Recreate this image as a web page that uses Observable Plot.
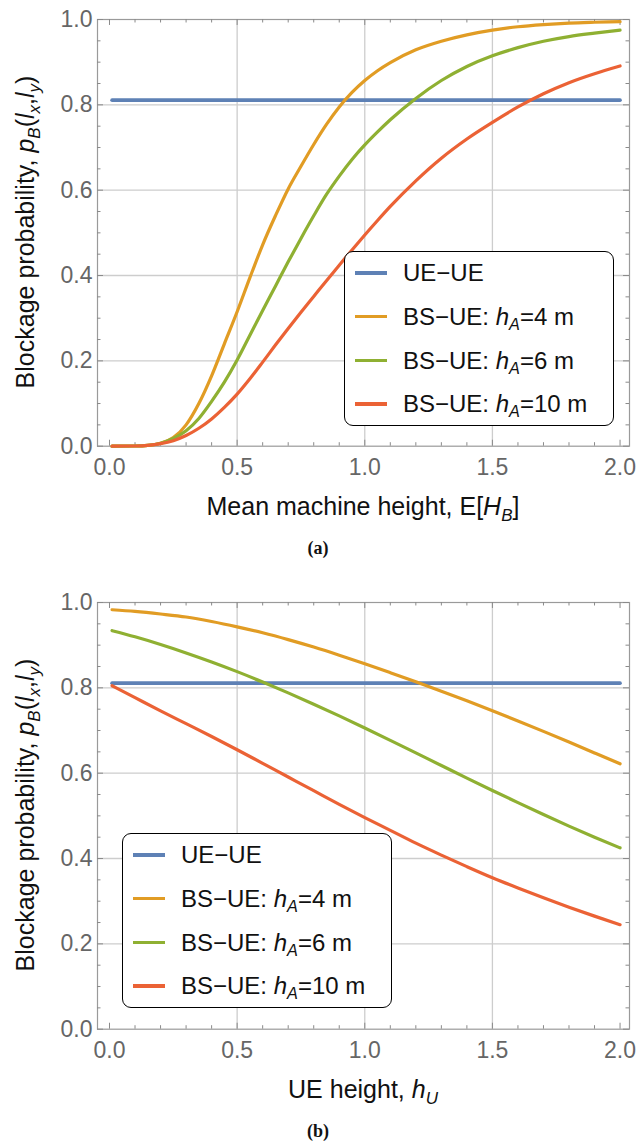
<!DOCTYPE html>
<html><head><meta charset="utf-8">
<script src="https://cdn.jsdelivr.net/npm/d3@7"></script>
<script src="https://cdn.jsdelivr.net/npm/@observablehq/plot@0.6"></script>
<style>
body{margin:0;background:#fff;font-family:"Liberation Sans",Arial,sans-serif;}
#root{position:relative;width:637px;height:1144px;overflow:hidden;}
.panel{position:absolute;left:0;width:637px;height:583px;}
.panel svg{position:absolute;left:0;top:0;}
.cap{position:absolute;left:318px;top:548px;transform:translate(-50%,-50%);font-family:"Liberation Serif","DejaVu Serif",serif;font-weight:bold;font-size:18px;line-height:1;color:#111;}
.legend{position:absolute;width:270px;height:175px;border:1.5px solid #000;border-radius:9px;background:#fff;box-sizing:border-box;}
.row{position:absolute;left:10px;transform:translateY(-50%);display:flex;align-items:center;white-space:nowrap;font-size:24px;color:#111;line-height:1;}
.sw{display:inline-block;width:32px;height:3.5px;margin-right:16px;}
sub{font-size:68%;vertical-align:-0.28em;line-height:0;}
</style>
</head><body><div id="root"></div>
<script>
// ---- data ----
const xTicks = [0, 0.5, 1, 1.5, 2];
const yTicks = [0, 0.2, 0.4, 0.6, 0.8, 1];
const seriesNames = ["UE\u2212UE", "BS\u2212UE: h_A=4 m", "BS\u2212UE: h_A=6 m", "BS\u2212UE: h_A=10 m"];
const seriesColors = ["#5E81B5", "#E19C24", "#8FB032", "#EB6235"];

const ueX = [0.01, 2.0];
const ueY = [0.811, 0.811];

// (a) vs mean machine height
const xA = [0.01,0.1,0.15,0.2,0.25,0.3,0.35,0.4,0.45,0.5,0.55,0.6,0.65,0.7,0.75,0.8,0.85,0.9,0.95,1.0,1.05,1.1,1.2,1.3,1.4,1.5,1.6,1.7,1.8,1.9,2.0];
const orangeA = [0,0.0005,0.002,0.007,0.02,0.05,0.1,0.165,0.24,0.315,0.395,0.472,0.54,0.603,0.656,0.707,0.754,0.795,0.829,0.857,0.88,0.899,0.929,0.949,0.964,0.975,0.983,0.988,0.9915,0.9935,0.995];
const greenA  = [0,0.0005,0.002,0.007,0.018,0.036,0.065,0.105,0.15,0.202,0.26,0.318,0.375,0.432,0.487,0.54,0.59,0.633,0.672,0.706,0.7365,0.765,0.815,0.857,0.89,0.915,0.934,0.949,0.96,0.968,0.975];
const redA    = [0,0.0005,0.002,0.006,0.013,0.025,0.042,0.064,0.091,0.122,0.158,0.197,0.237,0.276,0.314,0.351,0.388,0.424,0.46,0.495,0.529,0.562,0.622,0.675,0.72,0.759,0.795,0.826,0.852,0.873,0.891];

// (b) vs UE height
const xB = [0.01,0.1,0.2,0.3,0.4,0.5,0.6,0.7,0.8,0.9,1.0,1.1,1.2,1.3,1.4,1.5,1.6,1.7,1.8,1.9,2.0];
const orangeB = [0.983,0.979,0.973,0.966,0.9555,0.943,0.929,0.913,0.8955,0.8765,0.8565,0.8355,0.814,0.792,0.7695,0.7465,0.7225,0.698,0.673,0.6475,0.622];
const greenB  = [0.934,0.9196,0.9016,0.8819,0.8607,0.838,0.8137,0.7882,0.7617,0.7342,0.706,0.677,0.6475,0.618,0.5885,0.5595,0.531,0.503,0.476,0.45,0.425];
const redB    = [0.805,0.777,0.746,0.716,0.686,0.655,0.623,0.591,0.559,0.527,0.496,0.466,0.436,0.408,0.381,0.355,0.331,0.308,0.286,0.265,0.245];

// ---- drawing ----
const X0 = -0.047, X1 = 2.037;
const xMinor = d3.range(0, 21).map(i => i / 10);
const yMinor = d3.range(0, 21).map(i => i / 20);
const gridX = [0.5, 1, 1.5];
const gridY = [0.2, 0.4, 0.6, 0.8];
const FONT = "Liberation Sans, Arial, sans-serif";

function toRows(xs, ys) { return xs.map((x, i) => ({x, y: ys[i]})); }

function makePlot(xs, curves) {
  const tickC = "#8a8a8a";
  const isMajX = d => Math.abs(d * 2 - Math.round(d * 2)) < 1e-9;
  const isMajY = d => Math.abs(d * 5 - Math.round(d * 5)) < 1e-9;
  const majLx = 0.0235, minLx = 0.0137, majLy = 0.014, minLy = 0.0082;
  return Plot.plot({
    width: 637, height: 530,
    marginLeft: 97, marginRight: 8, marginTop: 19, marginBottom: 84.3,
    x: {domain: [X0, X1]},
    y: {domain: [0, 1]},
    style: {fontFamily: FONT, fontSize: "23px", color: "#666", background: "transparent", overflow: "visible"},
    marks: [
      Plot.ruleX(gridX, {x: d => d, stroke: "#cdcdcd", strokeWidth: 1.3}),
      Plot.ruleY(gridY, {y: d => d, stroke: "#cdcdcd", strokeWidth: 1.3}),
      Plot.frame({stroke: "#9a9a9a", strokeWidth: 1.2}),
      Plot.ruleX(xMinor, {x: d => d, y1: 0, y2: d => isMajX(d) ? majLy : minLy, stroke: tickC}),
      Plot.ruleX(xMinor, {x: d => d, y1: 1, y2: d => 1 - (isMajX(d) ? majLy : minLy), stroke: tickC}),
      Plot.ruleY(yMinor, {y: d => d, x1: X0, x2: d => X0 + (isMajY(d) ? majLx : minLx), stroke: tickC}),
      Plot.ruleY(yMinor, {y: d => d, x1: X1, x2: d => X1 - (isMajY(d) ? majLx : minLx), stroke: tickC}),
      Plot.axisX({ticks: xTicks, tickSize: 0, tickPadding: 12, tickFormat: d => d.toFixed(1), label: null, fontSize: 23, fill: "#666"}),
      Plot.axisY({ticks: yTicks, tickSize: 0, tickPadding: 5, tickFormat: d => d.toFixed(1), label: null, fontSize: 23, fill: "#666"}),
      Plot.line(toRows(ueX, ueY), {x: "x", y: "y", stroke: seriesColors[0], strokeWidth: 3.6}),
      ...curves.map((ys, i) => Plot.line(toRows(xs, ys), {x: "x", y: "y", stroke: seriesColors[i + 1], strokeWidth: 3.2, curve: "monotone-x"}))
    ]
  });
}

// rich SVG text with italic parts and subscripts
function richText(svg, parts, x, y, rotate) {
  const t = d3.select(svg).append("text")
    .attr("transform", `translate(${x},${y})` + (rotate ? " rotate(-90)" : ""))
    .attr("text-anchor", "middle")
    .attr("font-family", FONT)
    .attr("font-size", 25)
    .attr("fill", "#111");
  let shifted = false;
  parts.forEach(p => {
    const s = t.append("tspan").text(p.t);
    if (p.i) s.attr("font-style", "italic");
    if (p.sub) { s.attr("font-size", 17).attr("dy", shifted ? 0 : 6); shifted = true; }
    else if (shifted) { s.attr("dy", -6); shifted = false; }
  });
}

const yLabelParts = [{t: "Blockage probability, "}, {t: "p", i: 1}, {t: "B", i: 1, sub: 1}, {t: "("}, {t: "l", i: 1}, {t: "x", i: 1, sub: 1}, {t: ","}, {t: "l", i: 1}, {t: "y", i: 1, sub: 1}, {t: ")"}];

function labelHTML(s) {
  return s.replace(/h_A/, '<i>h</i><sub><i>A</i></sub>');
}

function legendHTML(left, top) {
  const rowsY = [21, 64.5, 108.5, 152];
  let h = `<div class="legend" style="left:${left}px;top:${top}px">`;
  seriesNames.forEach((n, i) => {
    h += `<div class="row" style="top:${rowsY[i]}px"><span class="sw" style="background:${seriesColors[i]}"></span><span>${labelHTML(n)}</span></div>`;
  });
  return h + "</div>";
}

function addPanel(top, xs, curves, xLabelParts, cap, legLeft, legTop) {
  const div = document.createElement("div");
  div.className = "panel";
  div.style.top = top + "px";
  const svg = makePlot(xs, curves);
  richText(svg, xLabelParts, 363, 515, false);
  richText(svg, yLabelParts, 34, 232, true);
  div.appendChild(svg);
  div.insertAdjacentHTML("beforeend",
    `<div class="cap">${cap}</div>` + legendHTML(legLeft, legTop));
  document.getElementById("root").appendChild(div);
}

addPanel(0, xA, [orangeA, greenA, redA],
  [{t: "Mean machine height, E["}, {t: "H", i: 1}, {t: "B", i: 1, sub: 1}, {t: "]"}], '(a)', 344, 251);
addPanel(583, xB, [orangeB, greenB, redB],
  [{t: "UE height, "}, {t: "h", i: 1}, {t: "U", i: 1, sub: 1}], '(b)', 122, 250);
</script>
</body></html>
